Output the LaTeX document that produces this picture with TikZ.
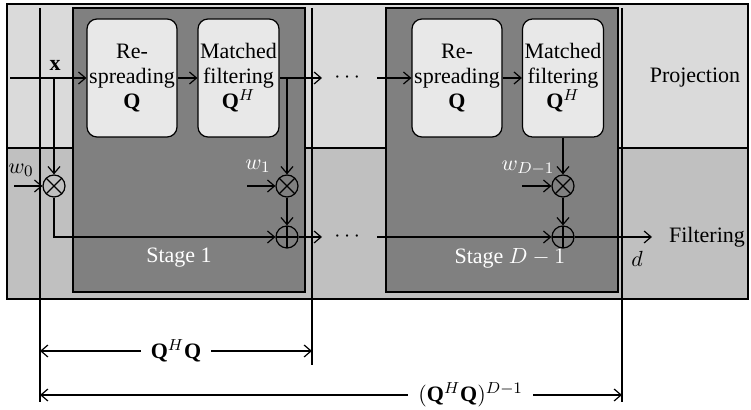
\documentclass[tikz,border=0pt]{standalone}
\usepackage{amsmath,amssymb}
\usepackage{fontspec}
\setmainfont{Liberation Serif}
\usepackage{tikz}
\usetikzlibrary{arrows.meta,positioning,calc}

\definecolor{projgray}{gray}{0.855}
\definecolor{filtgray}{gray}{0.753}
\definecolor{stagegray}{gray}{0.5}
\definecolor{blockgray}{gray}{0.91}

\tikzset{
  sig/.style={-{Straight Barb[length=3.5pt,width=6pt]}},
  dimarrow/.style={{Straight Barb[length=3.5pt,width=6pt]}-{Straight Barb[length=3.5pt,width=6pt]}},
  blockbox/.style={draw,fill=blockgray,rounded corners=5pt,align=center,
    inner sep=1pt,minimum height=59pt},
  mulnode/.style={circle,draw,minimum size=11pt,inner sep=0pt,
    path picture={\draw (path picture bounding box.north west)--(path picture bounding box.south east)
      (path picture bounding box.south west)--(path picture bounding box.north east);}},
  addnode/.style={circle,draw,minimum size=11pt,inner sep=0pt,
    path picture={\draw (path picture bounding box.north)--(path picture bounding box.south)
      (path picture bounding box.west)--(path picture bounding box.east);}},
  stagelab/.style={text=white},
}

\begin{document}
\begin{tikzpicture}[x=0.5pt,y=-0.5pt,line width=0.6pt,font=\fontsize{11}{12.5}\selectfont]
  \useasboundingbox (0,0) rectangle (751,410);
  % projection and filtering bands
  \fill[projgray] (7,4) rectangle (748,148);
  \fill[filtgray] (7,148) rectangle (748,299);
  \draw (7,4) rectangle (748,299) (7,148) -- (748,148);
  \draw (40,8) -- (40,402) (312,8) -- (312,365) (622,8) -- (622,402);

  % stages
  \draw[fill=stagegray] (73,8) rectangle (305,292);
  \draw[fill=stagegray] (386,8) rectangle (618,292);
  \node[stagelab] (labA) at (179,258) {Stage 1};
  \node[stagelab] (labB) at (510,258) {Stage $D-1$};

  \node[blockbox,minimum width=45pt] (rsA) at (132,78) {Re-\\spreading\\$\mathbf{Q}$};
  \node[blockbox,minimum width=40.5pt] (mfA) at (238.5,78) {Matched\\filtering\\$\mathbf{Q}^H$};
  \node[blockbox,minimum width=45pt] (rsB) at (457,78) {Re-\\spreading\\$\mathbf{Q}$};
  \node[blockbox,minimum width=40pt] (mfB) at (563,78) {Matched\\filtering\\$\mathbf{Q}^H$};

  \node[mulnode] (mul0) at (54,186) {};
  \node[mulnode] (mulA) at (287,186) {};
  \node[mulnode] (mulB) at (563,186) {};
  \node[addnode] (addA) at (287,237) {};
  \node[addnode] (addB) at (563,237) {};

  \coordinate (xin) at (10,78);
  \coordinate (brX) at (54,78);
  \coordinate (brA) at (287,78);
  \coordinate (outU) at (322,78);
  \coordinate (inU) at (377,78);
  \coordinate (outL) at (322,237);
  \coordinate (inL) at (377,237);
  \coordinate (outD) at (652,237);
  \coordinate (w0in) at (14,186);
  \coordinate (w1in) at (247,186);
  \coordinate (wDin) at (522,186);

  % labels
  \node (xlab) at (55,65) {$\mathbf{x}$};
  \node (w0) at (21,170) {$w_0$};
  \node[text=white] (w1) at (258,166) {$w_1$};
  \node[text=white] (wD) at (528,168) {$w_{D-1}$};
  \node (dotU) at (349,78) {$\cdots$};
  \node (dotL) at (349,237) {$\cdots$};
  \node (proj) at (695,78) {Projection};
  \node (filt) at (707,237) {Filtering};
  \node (dout) at (637,259) {$d$};

  % signal flow
  \draw[sig] (xin) -- (rsA);
  \draw[sig] (rsA) -- (mfA);
  \draw[sig] (mfA) -- (outU);
  \draw[sig] (inU) -- (rsB);
  \draw[sig] (rsB) -- (mfB);
  \draw[sig] (brX) -- (mul0);
  \draw[sig] (w0in) -- (mul0);
  \draw[sig] (mul0) |- (addA);
  \draw[sig] (brA) -- (mulA);
  \draw[sig] (w1in) -- (mulA);
  \draw[sig] (mulA) -- (addA);
  \draw[sig] (addA) -- (outL);
  \draw[sig] (inL) -- (addB);
  \draw[sig] (mfB) -- (mulB);
  \draw[sig] (wDin) -- (mulB);
  \draw[sig] (mulB) -- (addB);
  \draw[sig] (addB) -- (outD);

  % spans
  \coordinate (spA1) at (40,351);
  \coordinate (spA2) at (312,351);
  \coordinate (spB1) at (40,395);
  \coordinate (spB2) at (622,395);
  \draw[dimarrow] (spA1) -- node[fill=white,inner xsep=5pt,inner ysep=1pt] (qq) {$\mathbf{Q}^H\mathbf{Q}$} (spA2);
  \draw[dimarrow] (spB1) -- node[pos=0.74,fill=white,inner xsep=5pt,inner ysep=1pt] (qqD) {$(\mathbf{Q}^H\mathbf{Q})^{D-1}$} (spB2);
\end{tikzpicture}
\end{document}
